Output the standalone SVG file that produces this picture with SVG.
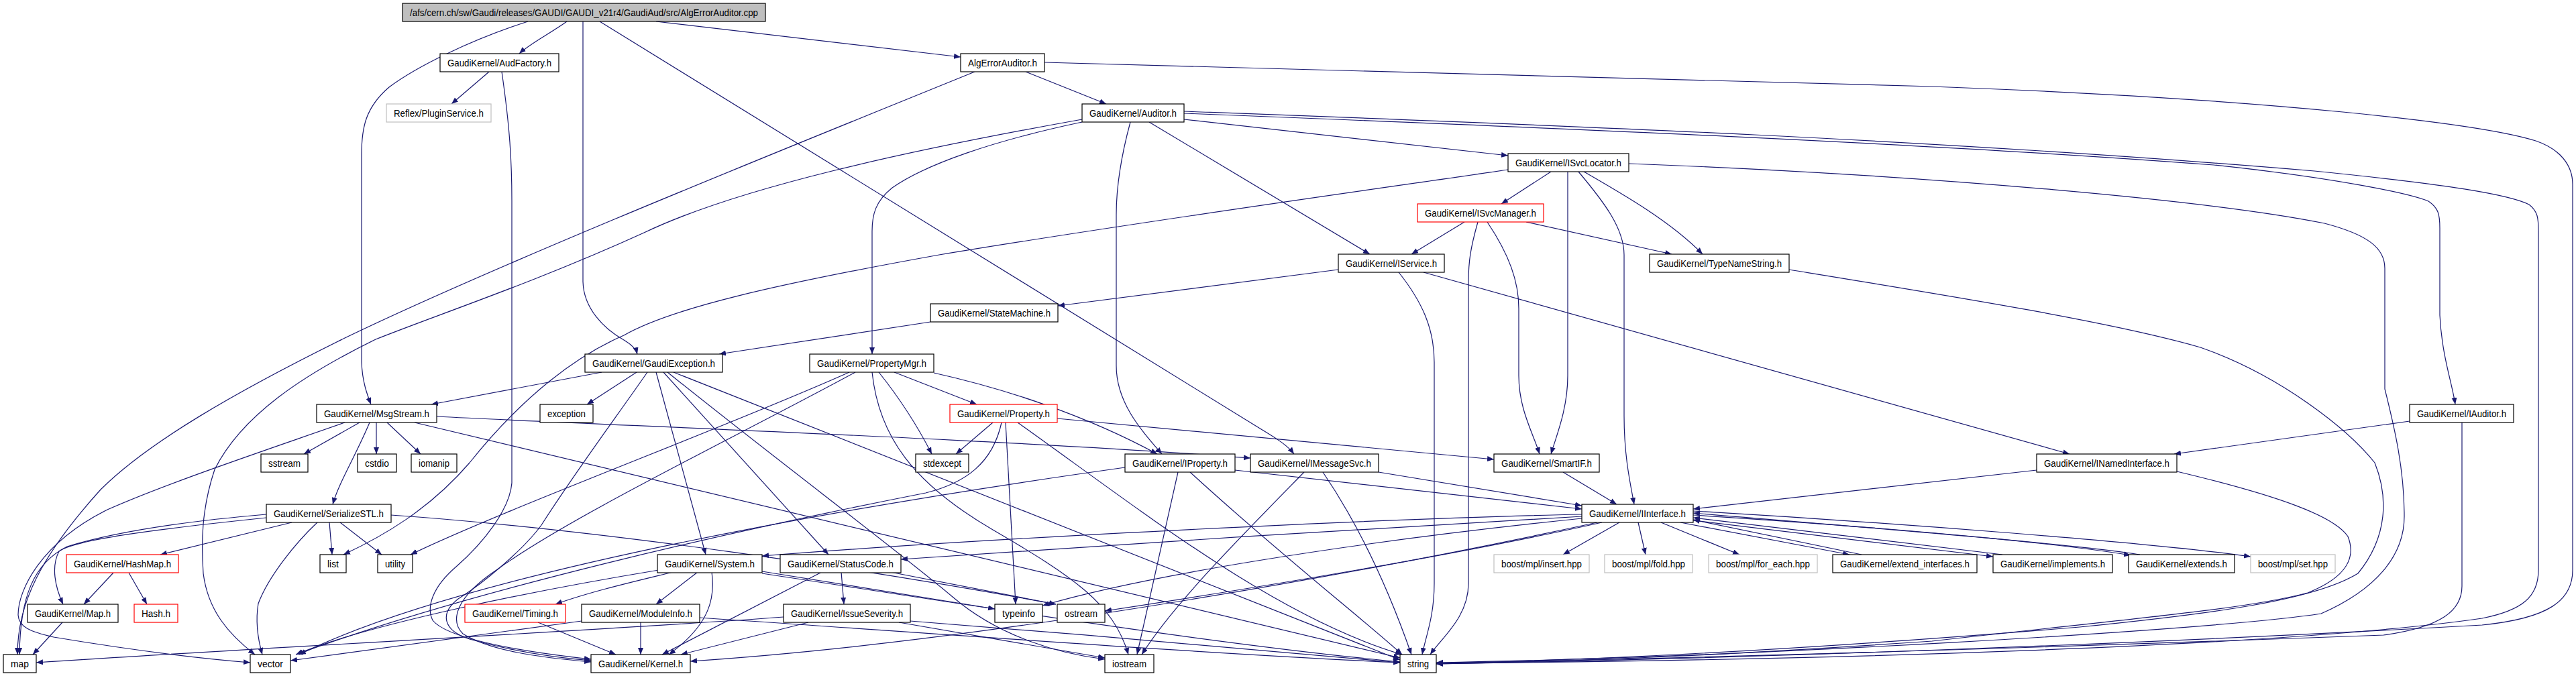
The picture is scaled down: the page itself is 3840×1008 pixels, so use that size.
<svg xmlns="http://www.w3.org/2000/svg" width="3840" height="1008" viewBox="0 0 3840 1008">
<defs>
<marker id="arr" markerUnits="userSpaceOnUse" markerWidth="11" markerHeight="9" refX="10" refY="4" orient="auto"><path d="M0,0 L10,4 L0,8 z" fill="#191970"/></marker>
<style>
.b{fill:#ffffff;stroke:#000000;stroke-width:1.2}
.r{fill:#ffffff;stroke:#ff0000;stroke-width:1.2}
.g{fill:#ffffff;stroke:#bfbfbf;stroke-width:1.2}
.root{fill:#bfbfbf;stroke:#000000;stroke-width:1.2}
text{font-family:"Liberation Sans",Arial,sans-serif;font-size:14px;text-anchor:middle;fill:#000000}
#edges path{fill:none;stroke:#191970;stroke-width:1.2;marker-end:url(#arr)}
</style>
</defs>
<rect width="3840" height="1008" fill="#ffffff"/>
<g id="edges">
<path d="M845,32 C820,50 790,65 774,80"/>
<path d="M787,32 C700,60 620,100 580,130 C545,160 539,190 539,230 L539,540 C540,570 548,590 553,603"/>
<path d="M869,32 L869,420 C870,460 900,490 930,507 C942,514 948,520 950,528"/>
<path d="M894,32 L1880,640 C1905,655 1920,665 1929,677"/>
<path d="M978,32 L1432,85"/>
<path d="M729,107 L673,155"/>
<path d="M748,107 C760,190 763,240 763,300 L763,720 C760,760 720,810 680,845 C645,875 635,905 645,925 C665,950 760,970 881,983"/>
<path d="M1529,107 L1649,155"/>
<path d="M1453,107 C1200,210 750,390 514,504 C350,585 220,660 150,730 C60,830 26,900 26,976"/>
<path d="M1557,93 C2200,110 2700,125 2880,129 C3400,148 3700,185 3780,210 C3815,222 3835,245 3835,275 L3835,850 C3835,895 3800,922 3700,932 C3200,960 2600,982 2141,990"/>
<path d="M1765,178 L2248,232"/>
<path d="M1765,169 C2300,190 2880,214 3300,246 C3480,265 3590,288 3620,300 C3635,310 3637,320 3637,340 L3637,470 C3640,530 3655,570 3660,603"/>
<path d="M1765,166 C2300,186 2880,207 3450,255 C3650,275 3740,290 3770,305 C3783,315 3784,325 3784,345 L3784,850 C3784,890 3760,910 3700,922 C3400,965 2700,985 2141,989"/>
<path d="M1613,182 C1480,210 1380,245 1330,280 C1305,300 1300,320 1300,345 L1300,528"/>
<path d="M1613,178 C1350,225 1100,280 960,347 C800,420 650,470 560,506 C450,560 360,620 320,700 C300,760 300,810 303,855 C310,910 340,945 380,976"/>
<path d="M1685,182 C1672,230 1664,280 1664,320 L1664,545 C1664,600 1700,640 1732,677"/>
<path d="M1713,182 L2042,379"/>
<path d="M2312,256 L2238,304"/>
<path d="M2337,256 L2337,560 C2337,610 2320,650 2312,677"/>
<path d="M2353,256 C2390,300 2421,340 2421,380 L2421,620 C2421,680 2430,720 2436,752"/>
<path d="M2361,256 C2420,290 2490,330 2538,379"/>
<path d="M2428,244 C2900,262 3300,300 3465,333 C3530,350 3555,370 3555,400 L3555,580 C3570,640 3584,700 3584,770 C3584,830 3540,880 3460,915 C3300,940 2600,980 2141,988"/>
<path d="M2248,253 C2100,275 1700,330 1400,380 C1150,425 1000,460 930,500 C860,530 780,590 700,690 C640,760 570,800 512,827"/>
<path d="M2183,331 L2104,379"/>
<path d="M2275,331 L2492,379"/>
<path d="M2203,331 C2192,370 2189,390 2189,420 L2189,870 C2189,920 2150,950 2132,976"/>
<path d="M2217,331 C2250,380 2264,420 2264,460 L2264,560 C2264,610 2285,645 2295,677"/>
<path d="M1995,402 L1577,456"/>
<path d="M2085,406 C2120,450 2138,490 2138,540 L2138,870 C2138,920 2125,950 2120,976"/>
<path d="M2122,406 L3085,677"/>
<path d="M2667,402 C2900,440 3150,480 3280,518 C3400,560 3500,640 3540,690 C3560,740 3560,800 3515,855 C3450,895 3300,915 3100,935 C2700,968 2400,984 2141,989"/>
<path d="M1387,480 L1072,528"/>
<path d="M897,555 L643,603"/>
<path d="M949,555 L875,603"/>
<path d="M965,555 C920,620 860,700 807,783 C780,820 720,870 683,893 C655,915 660,940 700,953 C760,970 820,980 881,985"/>
<path d="M978,555 L1052,827"/>
<path d="M989,555 L1235,827"/>
<path d="M995,555 C1150,680 1350,830 1420,890 C1490,950 1580,975 1647,983"/>
<path d="M1004,555 L2087,984"/>
<path d="M1333,555 L1456,603"/>
<path d="M1310,555 C1330,580 1360,620 1389,677"/>
<path d="M1392,556 C1500,580 1620,620 1725,677"/>
<path d="M1300,555 C1310,650 1360,720 1480,790 C1600,860 1660,900 1682,976"/>
<path d="M1266,555 C1100,630 750,760 612,827"/>
<path d="M1275,555 C1100,650 850,770 740,850 C680,890 670,925 690,945 C730,970 800,980 881,987"/>
<path d="M536,630 L453,677"/>
<path d="M561,630 L561,677"/>
<path d="M577,630 L627,677"/>
<path d="M551,630 C530,680 505,720 496,752"/>
<path d="M651,621 C900,634 1500,655 1864,683"/>
<path d="M618,630 L2087,981"/>
<path d="M514,630 C400,670 250,720 160,760 C60,810 27,880 27,917 C28,935 45,942 80,950 C200,970 300,982 373,988"/>
<path d="M435,779 L239,827"/>
<path d="M473,779 C440,810 400,860 385,900 C380,930 385,955 391,976"/>
<path d="M491,779 L495,827"/>
<path d="M507,779 L569,827"/>
<path d="M397,767 C268,778 165,795 100,815 C50,840 30,890 29,976"/>
<path d="M397,772 C223,790 112,805 88,822 C76,845 82,875 94,901"/>
<path d="M583,768 C900,790 1300,850 1574,901"/>
<path d="M169,854 L125,901"/>
<path d="M192,854 L219,901"/>
<path d="M93,928 L49,976"/>
<path d="M1003,853 C950,866 880,882 828,901"/>
<path d="M982,850 C800,880 550,930 441,976"/>
<path d="M1040,853 L978,901"/>
<path d="M1061,853 C1066,890 1060,930 997,976"/>
<path d="M1136,852 L1483,908"/>
<path d="M1136,855 C1400,895 1800,960 2087,987"/>
<path d="M1254,853 L1258,901"/>
<path d="M1225,853 L987,976"/>
<path d="M1327,853 L1574,901"/>
<path d="M802,928 L918,976"/>
<path d="M955,928 L955,976"/>
<path d="M867,926 L433,985"/>
<path d="M1043,921 C1400,945 1800,975 2087,988"/>
<path d="M1205,928 L1015,976"/>
<path d="M1168,920 C900,940 400,965 54,988"/>
<path d="M1340,928 L1647,981"/>
<path d="M1357,926 C1600,945 1900,970 2087,988"/>
<path d="M1480,630 L1425,677"/>
<path d="M1499,630 L1514,901"/>
<path d="M1517,630 C1700,760 1900,920 2090,976"/>
<path d="M1576,624 L2227,685"/>
<path d="M1493,630 C1480,690 1440,720 1380,735 C1100,790 700,880 442,976"/>
<path d="M1841,701 L2358,759"/>
<path d="M1756,704 L1695,976"/>
<path d="M1774,704 C1900,820 2040,930 2090,976"/>
<path d="M1677,697 C1300,750 700,850 446,976"/>
<path d="M2055,704 L2358,754"/>
<path d="M1972,704 C2010,760 2060,850 2104,976"/>
<path d="M1944,704 C1850,800 1750,900 1702,976"/>
<path d="M2330,704 L2410,752"/>
<path d="M3036,701 L2524,759"/>
<path d="M3245,703 C3400,740 3480,770 3500,800 C3512,830 3500,860 3440,884 C3350,908 3200,920 2880,956 C2600,975 2400,985 2141,990"/>
<path d="M3592,628 L3241,677"/>
<path d="M3670,629 L3670,874 C3670,910 3640,935 3553,947 C3200,960 2600,980 2141,989"/>
<path d="M2358,767 C2100,772 1500,800 1136,829"/>
<path d="M2358,770 C2100,785 1600,815 1343,834"/>
<path d="M2358,773 C2000,810 1700,860 1554,903"/>
<path d="M2388,779 C2150,832 1850,880 1647,911"/>
<path d="M2381,779 C2100,840 1500,955 1029,986"/>
<path d="M2414,779 L2330,827"/>
<path d="M2442,779 L2453,827"/>
<path d="M2476,779 L2593,827"/>
<path d="M2505,779 L2757,827"/>
<path d="M2775,827 L2524,775"/>
<path d="M2524,776 L2971,830"/>
<path d="M2985,827 L2524,772"/>
<path d="M2524,768 C2900,792 3100,815 3176,828"/>
<path d="M3190,827 C3100,812 2800,788 2524,765"/>
<path d="M2524,762 C2800,778 3200,808 3355,830"/>
</g>
<g id="n_root"><rect class="root" x="600" y="5" width="541" height="27"/><text x="870.5" y="23.5" textLength="519" lengthAdjust="spacingAndGlyphs">/afs/cern.ch/sw/Gaudi/releases/GAUDI/GAUDI_v21r4/GaudiAud/src/AlgErrorAuditor.cpp</text></g>
<g id="n_audfactory"><rect class="b" x="656" y="80" width="177" height="27"/><text x="744.5" y="98.5" textLength="155" lengthAdjust="spacingAndGlyphs">GaudiKernel/AudFactory.h</text></g>
<g id="n_algerr"><rect class="b" x="1432" y="80" width="125" height="27"/><text x="1494.5" y="98.5" textLength="103" lengthAdjust="spacingAndGlyphs">AlgErrorAuditor.h</text></g>
<g id="n_plugin"><rect class="g" x="576" y="155" width="156" height="27"/><text x="654" y="173.5" textLength="134" lengthAdjust="spacingAndGlyphs">Reflex/PluginService.h</text></g>
<g id="n_auditor"><rect class="b" x="1613" y="155" width="152" height="27"/><text x="1689" y="173.5" textLength="130" lengthAdjust="spacingAndGlyphs">GaudiKernel/Auditor.h</text></g>
<g id="n_isvcloc"><rect class="b" x="2248" y="229" width="180" height="27"/><text x="2338" y="247.5" textLength="158" lengthAdjust="spacingAndGlyphs">GaudiKernel/ISvcLocator.h</text></g>
<g id="n_isvcmgr"><rect class="r" x="2113" y="304" width="188" height="27"/><text x="2207" y="322.5" textLength="166" lengthAdjust="spacingAndGlyphs">GaudiKernel/ISvcManager.h</text></g>
<g id="n_iservice"><rect class="b" x="1995" y="379" width="158" height="27"/><text x="2074" y="397.5" textLength="136" lengthAdjust="spacingAndGlyphs">GaudiKernel/IService.h</text></g>
<g id="n_typename"><rect class="b" x="2459" y="379" width="208" height="27"/><text x="2563" y="397.5" textLength="186" lengthAdjust="spacingAndGlyphs">GaudiKernel/TypeNameString.h</text></g>
<g id="n_statemach"><rect class="b" x="1387" y="453" width="190" height="27"/><text x="1482" y="471.5" textLength="168" lengthAdjust="spacingAndGlyphs">GaudiKernel/StateMachine.h</text></g>
<g id="n_gaudiexc"><rect class="b" x="872" y="528" width="205" height="27"/><text x="974.5" y="546.5" textLength="183" lengthAdjust="spacingAndGlyphs">GaudiKernel/GaudiException.h</text></g>
<g id="n_propmgr"><rect class="b" x="1207" y="528" width="185" height="27"/><text x="1299.5" y="546.5" textLength="163" lengthAdjust="spacingAndGlyphs">GaudiKernel/PropertyMgr.h</text></g>
<g id="n_msgstream"><rect class="b" x="472" y="603" width="179" height="27"/><text x="561.5" y="621.5" textLength="157" lengthAdjust="spacingAndGlyphs">GaudiKernel/MsgStream.h</text></g>
<g id="n_exception"><rect class="b" x="805" y="603" width="79" height="27"/><text x="844.5" y="621.5" textLength="57" lengthAdjust="spacingAndGlyphs">exception</text></g>
<g id="n_property"><rect class="r" x="1416" y="603" width="160" height="27"/><text x="1496" y="621.5" textLength="138" lengthAdjust="spacingAndGlyphs">GaudiKernel/Property.h</text></g>
<g id="n_iauditor"><rect class="b" x="3592" y="603" width="155" height="27"/><text x="3669.5" y="621.5" textLength="133" lengthAdjust="spacingAndGlyphs">GaudiKernel/IAuditor.h</text></g>
<g id="n_sstream"><rect class="b" x="389" y="677" width="70" height="27"/><text x="424" y="695.5" textLength="48" lengthAdjust="spacingAndGlyphs">sstream</text></g>
<g id="n_cstdio"><rect class="b" x="533" y="677" width="58" height="27"/><text x="562" y="695.5" textLength="36" lengthAdjust="spacingAndGlyphs">cstdio</text></g>
<g id="n_iomanip"><rect class="b" x="613" y="677" width="68" height="27"/><text x="647" y="695.5" textLength="46" lengthAdjust="spacingAndGlyphs">iomanip</text></g>
<g id="n_stdexcept"><rect class="b" x="1365" y="677" width="79" height="27"/><text x="1404.5" y="695.5" textLength="57" lengthAdjust="spacingAndGlyphs">stdexcept</text></g>
<g id="n_iproperty"><rect class="b" x="1677" y="677" width="164" height="27"/><text x="1759" y="695.5" textLength="142" lengthAdjust="spacingAndGlyphs">GaudiKernel/IProperty.h</text></g>
<g id="n_imsgsvc"><rect class="b" x="1864" y="677" width="191" height="27"/><text x="1959.5" y="695.5" textLength="169" lengthAdjust="spacingAndGlyphs">GaudiKernel/IMessageSvc.h</text></g>
<g id="n_smartif"><rect class="b" x="2227" y="677" width="157" height="27"/><text x="2305.5" y="695.5" textLength="135" lengthAdjust="spacingAndGlyphs">GaudiKernel/SmartIF.h</text></g>
<g id="n_inamed"><rect class="b" x="3036" y="677" width="209" height="27"/><text x="3140.5" y="695.5" textLength="187" lengthAdjust="spacingAndGlyphs">GaudiKernel/INamedInterface.h</text></g>
<g id="n_serialize"><rect class="b" x="397" y="752" width="186" height="27"/><text x="490" y="770.5" textLength="164" lengthAdjust="spacingAndGlyphs">GaudiKernel/SerializeSTL.h</text></g>
<g id="n_iinterface"><rect class="b" x="2358" y="752" width="166" height="27"/><text x="2441" y="770.5" textLength="144" lengthAdjust="spacingAndGlyphs">GaudiKernel/IInterface.h</text></g>
<g id="n_system"><rect class="b" x="980" y="827" width="156" height="27"/><text x="1058" y="845.5" textLength="134" lengthAdjust="spacingAndGlyphs">GaudiKernel/System.h</text></g>
<g id="n_statuscode"><rect class="b" x="1163" y="827" width="180" height="27"/><text x="1253" y="845.5" textLength="158" lengthAdjust="spacingAndGlyphs">GaudiKernel/StatusCode.h</text></g>
<g id="n_hashmap"><rect class="r" x="99" y="827" width="167" height="27"/><text x="182.5" y="845.5" textLength="145" lengthAdjust="spacingAndGlyphs">GaudiKernel/HashMap.h</text></g>
<g id="n_list"><rect class="b" x="477" y="827" width="39" height="27"/><text x="496.5" y="845.5" textLength="17" lengthAdjust="spacingAndGlyphs">list</text></g>
<g id="n_utility"><rect class="b" x="563" y="827" width="52" height="27"/><text x="589" y="845.5" textLength="30" lengthAdjust="spacingAndGlyphs">utility</text></g>
<g id="n_insert"><rect class="g" x="2227" y="827" width="142" height="27"/><text x="2298" y="845.5" textLength="120" lengthAdjust="spacingAndGlyphs">boost/mpl/insert.hpp</text></g>
<g id="n_fold"><rect class="g" x="2392" y="827" width="131" height="27"/><text x="2457.5" y="845.5" textLength="109" lengthAdjust="spacingAndGlyphs">boost/mpl/fold.hpp</text></g>
<g id="n_foreach"><rect class="g" x="2547" y="827" width="162" height="27"/><text x="2628" y="845.5" textLength="140" lengthAdjust="spacingAndGlyphs">boost/mpl/for_each.hpp</text></g>
<g id="n_extendif"><rect class="b" x="2732" y="827" width="215" height="27"/><text x="2839.5" y="845.5" textLength="193" lengthAdjust="spacingAndGlyphs">GaudiKernel/extend_interfaces.h</text></g>
<g id="n_implements"><rect class="b" x="2971" y="827" width="178" height="27"/><text x="3060" y="845.5" textLength="156" lengthAdjust="spacingAndGlyphs">GaudiKernel/implements.h</text></g>
<g id="n_extends"><rect class="b" x="3173" y="827" width="158" height="27"/><text x="3252" y="845.5" textLength="136" lengthAdjust="spacingAndGlyphs">GaudiKernel/extends.h</text></g>
<g id="n_set"><rect class="g" x="3355" y="827" width="126" height="27"/><text x="3418" y="845.5" textLength="104" lengthAdjust="spacingAndGlyphs">boost/mpl/set.hpp</text></g>
<g id="n_maph"><rect class="b" x="41" y="901" width="135" height="27"/><text x="108.5" y="919.5" textLength="113" lengthAdjust="spacingAndGlyphs">GaudiKernel/Map.h</text></g>
<g id="n_hash"><rect class="r" x="200" y="901" width="65" height="27"/><text x="232.5" y="919.5" textLength="43" lengthAdjust="spacingAndGlyphs">Hash.h</text></g>
<g id="n_timing"><rect class="r" x="693" y="901" width="150" height="27"/><text x="768" y="919.5" textLength="128" lengthAdjust="spacingAndGlyphs">GaudiKernel/Timing.h</text></g>
<g id="n_moduleinfo"><rect class="b" x="867" y="901" width="176" height="27"/><text x="955" y="919.5" textLength="154" lengthAdjust="spacingAndGlyphs">GaudiKernel/ModuleInfo.h</text></g>
<g id="n_issue"><rect class="b" x="1168" y="901" width="189" height="27"/><text x="1262.5" y="919.5" textLength="167" lengthAdjust="spacingAndGlyphs">GaudiKernel/IssueSeverity.h</text></g>
<g id="n_typeinfo"><rect class="b" x="1483" y="901" width="71" height="27"/><text x="1518.5" y="919.5" textLength="49" lengthAdjust="spacingAndGlyphs">typeinfo</text></g>
<g id="n_ostream"><rect class="b" x="1576" y="901" width="71" height="27"/><text x="1611.5" y="919.5" textLength="49" lengthAdjust="spacingAndGlyphs">ostream</text></g>
<g id="n_map"><rect class="b" x="5" y="976" width="49" height="27"/><text x="29.5" y="994.5" textLength="27" lengthAdjust="spacingAndGlyphs">map</text></g>
<g id="n_vector"><rect class="b" x="373" y="976" width="60" height="27"/><text x="403" y="994.5" textLength="38" lengthAdjust="spacingAndGlyphs">vector</text></g>
<g id="n_kernel"><rect class="b" x="881" y="976" width="148" height="27"/><text x="955" y="994.5" textLength="126" lengthAdjust="spacingAndGlyphs">GaudiKernel/Kernel.h</text></g>
<g id="n_iostream"><rect class="b" x="1647" y="976" width="73" height="27"/><text x="1683.5" y="994.5" textLength="51" lengthAdjust="spacingAndGlyphs">iostream</text></g>
<g id="n_string"><rect class="b" x="2087" y="976" width="54" height="27"/><text x="2114" y="994.5" textLength="32" lengthAdjust="spacingAndGlyphs">string</text></g>
</svg>
